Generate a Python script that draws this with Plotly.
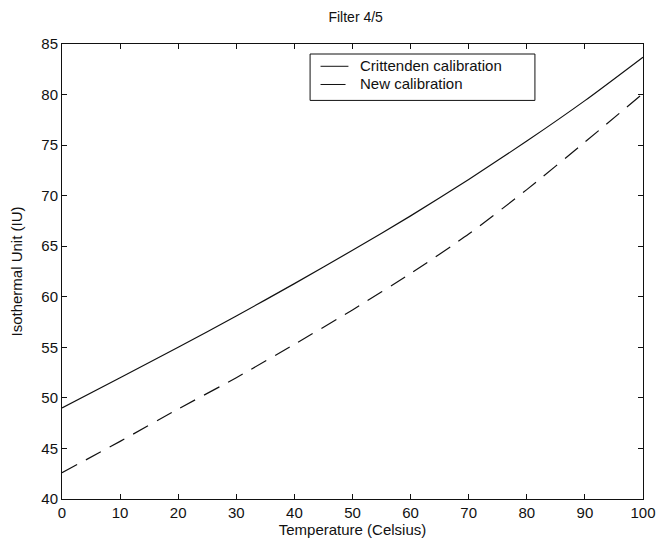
import plotly.graph_objects as go

temperature = [0, 10, 20, 30, 40, 50, 60, 70, 80, 90, 100]
crittenden = [49.0, 52.0, 55.0, 58.1, 61.3, 64.6, 68.0, 71.6, 75.4, 79.4, 83.7]
new_cal = [42.6, 45.7, 48.9, 52.0, 55.3, 58.7, 62.3, 66.2, 70.6, 75.3, 80.1]

x_ticks = [0, 10, 20, 30, 40, 50, 60, 70, 80, 90, 100]
y_ticks = [40, 45, 50, 55, 60, 65, 70, 75, 80, 85]

FONT = "Liberation Sans, Arial, sans-serif"
INK = "#111111"

# the page body adds an 8px offset; size the figure to fill the rest of the window
W, H = 656, 538

fig = go.Figure()
fig.add_trace(go.Scatter(x=temperature, y=crittenden, mode="lines",
                         name="Crittenden calibration", showlegend=False,
                         line=dict(color=INK, width=1.2, shape="spline", smoothing=0.6)))
fig.add_trace(go.Scatter(x=temperature, y=new_cal, mode="lines",
                         name="New calibration", showlegend=False,
                         line=dict(color=INK, width=1.2, shape="spline", smoothing=0.6,
                                   dash="17px,10px")))

# manual legend box (MATLAB style)
fig.add_shape(type="rect", xref="paper", yref="paper", x0=0.427, x1=0.814, y0=0.876, y1=0.978,
              line=dict(color=INK, width=1), fillcolor="white")
fig.add_shape(type="line", xref="paper", yref="paper", x0=0.445, x1=0.493, y0=0.951, y1=0.951,
              line=dict(color=INK, width=1))
fig.add_shape(type="line", xref="paper", yref="paper", x0=0.445, x1=0.493, y0=0.911, y1=0.911,
              line=dict(color=INK, width=1, dash="25px,10px"))
fig.add_annotation(xref="paper", yref="paper", x=0.51, y=0.953, text="Crittenden calibration",
                   showarrow=False, xanchor="left", yanchor="middle",
                   font=dict(family=FONT, size=15, color=INK))
fig.add_annotation(xref="paper", yref="paper", x=0.51, y=0.913, text="New calibration",
                   showarrow=False, xanchor="left", yanchor="middle",
                   font=dict(family=FONT, size=15, color=INK))

fig.update_layout(
    width=W, height=H,
    margin=dict(l=54, r=21, t=36, b=47, autoexpand=False),
    paper_bgcolor="white", plot_bgcolor="white",
    font=dict(family=FONT, size=14, color=INK),
    title=dict(text="Filter 4/5", x=0.53, xanchor="center", y=1 - 9 / H, yanchor="middle",
               font=dict(family=FONT, size=14, color=INK)),
    showlegend=False,
)
fig.update_xaxes(range=[0, 100], tickvals=x_ticks, ticks="inside", ticklen=5,
                 showline=True, mirror="ticks", linecolor=INK, linewidth=1, tickcolor=INK,
                 showgrid=False, zeroline=False, automargin=False,
                 title=dict(text="Temperature (Celsius)", standoff=0, font=dict(size=15)),
                 tickfont=dict(size=15))
fig.update_yaxes(range=[40, 85], tickvals=y_ticks, ticks="inside", ticklen=5,
                 showline=True, mirror="ticks", linecolor=INK, linewidth=1, tickcolor=INK,
                 showgrid=False, zeroline=False, automargin=False,
                 title=dict(text="Isothermal Unit (IU)", standoff=16, font=dict(size=15)),
                 tickfont=dict(size=15))

fig.write_html("out.html")
